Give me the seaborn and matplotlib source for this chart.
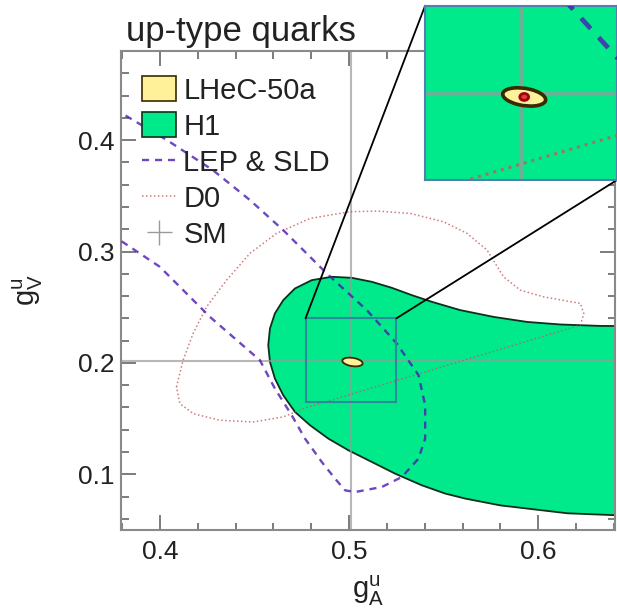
import matplotlib
matplotlib.use("Agg")
import matplotlib.pyplot as plt
import seaborn as sns
import pandas as pd
from matplotlib.patches import Ellipse, Rectangle, Patch, ConnectionPatch
from matplotlib.lines import Line2D
from matplotlib.ticker import MultipleLocator

# ---- contour data (g_A^u, g_V^u) ----
# H1 allowed region (closed, runs off the right edge)
h1_gA = [0.4573, 0.4582, 0.4608, 0.4652, 0.4714, 0.4803, 0.4908, 0.5014, 0.5120,
         0.5226, 0.5332, 0.5438, 0.5587, 0.5764, 0.5940, 0.6116, 0.6328, 0.6593,
         0.6593, 0.6418, 0.6153, 0.5799, 0.5614, 0.5508, 0.5385, 0.5243, 0.5120,
         0.4996, 0.4890, 0.4794, 0.4714, 0.4652, 0.4608, 0.4582, 0.4573]
h1_gV = [0.2159, 0.2309, 0.2444, 0.2563, 0.2668, 0.2743, 0.2773, 0.2764, 0.2728,
         0.2674, 0.2608, 0.2548, 0.2474, 0.2413, 0.2368, 0.2345, 0.2332, 0.2330,
         0.0627, 0.0632, 0.0650, 0.0721, 0.0782, 0.0827, 0.0901, 0.1006, 0.1111,
         0.1216, 0.1321, 0.1440, 0.1560, 0.1710, 0.1860, 0.2009, 0.2159]

# LEP & SLD band (open towards small g_A)
lep_gA = [0.3760, 0.4037, 0.4280, 0.4476, 0.4652, 0.4882, 0.5094, 0.5252, 0.5367,
          0.5402, 0.5402, 0.5367, 0.5279, 0.5173, 0.5032, 0.4979, 0.4926, 0.4856,
          0.4767, 0.4697, 0.4608, 0.4529, 0.4265, 0.4000, 0.3760]
lep_gV = [0.4280, 0.4001, 0.3731, 0.3462, 0.3192, 0.2803, 0.2473, 0.2174, 0.1890,
          0.1620, 0.1321, 0.1141, 0.0976, 0.0886, 0.0841, 0.0856, 0.0961, 0.1110,
          0.1321, 0.1530, 0.1770, 0.2024, 0.2413, 0.2863, 0.3135]

# D0 contour (closed)
d0_gA = [0.4088, 0.4123, 0.4176, 0.4247, 0.4353, 0.4476, 0.4617, 0.4794, 0.5005,
         0.5147, 0.5323, 0.5499, 0.5623, 0.5729, 0.5816, 0.5905, 0.6028, 0.6222,
         0.6240, 0.6222, 0.4758, 0.4652, 0.4494, 0.4317, 0.4176, 0.4106, 0.4088]
d0_gV = [0.1784, 0.2024, 0.2264, 0.2503, 0.2743, 0.2983, 0.3163, 0.3297, 0.3357,
         0.3363, 0.3342, 0.3267, 0.3163, 0.3013, 0.2773, 0.2653, 0.2593, 0.2534,
         0.2444, 0.2339, 0.1590, 0.1515, 0.1470, 0.1485, 0.1545, 0.1635, 0.1784]

# Standard Model point
sm_gA, sm_gV = 0.501, 0.202

# LHeC-50a projection: centre, full widths, tilt (deg)
lhec_centre = (0.5018, 0.2008)
lhec_size = (0.0112, 0.0072)
lhec_tilt = -22
# inner (high-precision) core
core_centre = (0.5018, 0.2008)
core_size = (0.0022, 0.0030)

# zoomed window
zoom_gA = (0.477, 0.525)
zoom_gV = (0.165, 0.240)

# ---- style ----
GREEN = "#00ea8c"
H1_EDGE = "#0f2e1c"
YELLOW = "#fff199"
ELL_EDGE = "#3a2a00"
LEP_C = "#4a1ab0"
D0_C = "#c45a5a"
SM_C = "#9a9a9a"
BOX_C = "#2a8a9a"

sns.set_theme(style="ticks")
plt.rcParams["font.family"] = ["Liberation Sans", "DejaVu Sans"]
plt.rcParams["mathtext.fontset"] = "custom"
plt.rcParams["mathtext.rm"] = "Liberation Sans"
plt.rcParams["mathtext.it"] = "Liberation Sans"

fig = plt.figure(figsize=(6.17, 6.15), dpi=100)
ax = fig.add_axes([121 / 617, 85 / 615, 494 / 617, 479 / 615])

lep = pd.DataFrame({"gA": lep_gA, "gV": lep_gV})
d0 = pd.DataFrame({"gA": d0_gA, "gV": d0_gV})


def draw_contents(a, scale):
    a.fill(h1_gA, h1_gV, facecolor=GREEN, edgecolor=H1_EDGE, lw=1.3 * scale, zorder=1)
    a.axvline(sm_gA, color=SM_C, lw=1.5 * scale, alpha=0.7, zorder=2)
    a.axhline(sm_gV, color=SM_C, lw=1.5 * scale, alpha=0.7, zorder=2)
    sns.lineplot(data=d0, x="gA", y="gV", sort=False, estimator=None, ax=a,
                 color=D0_C, lw=1.1 * scale, alpha=0.8, zorder=3,
                 linestyle=(0, (1, 1.6)))
    sns.lineplot(data=lep, x="gA", y="gV", sort=False, estimator=None, ax=a,
                 color=LEP_C, lw=1.7 * scale, alpha=0.8, zorder=4,
                 linestyle=(0, (3, 2.5)))
    a.add_patch(Ellipse(lhec_centre, lhec_size[0], lhec_size[1], angle=lhec_tilt,
                        facecolor=YELLOW, edgecolor=ELL_EDGE, lw=1.3 * scale, zorder=6))


draw_contents(ax, 1.0)
ax.add_patch(Rectangle((zoom_gA[0], zoom_gV[0]), zoom_gA[1] - zoom_gA[0],
                       zoom_gV[1] - zoom_gV[0], fill=False, edgecolor=BOX_C,
                       lw=1.5, zorder=5))

ax.xaxis.set_major_locator(MultipleLocator(0.1))
ax.xaxis.set_minor_locator(MultipleLocator(0.02))
ax.yaxis.set_major_locator(MultipleLocator(0.1))
ax.yaxis.set_minor_locator(MultipleLocator(0.02))
ax.set_xlim(0.3795, 0.6405)
ax.set_ylim(0.05, 0.48)
ax.xaxis.set_major_formatter(lambda v, p: f"{v:.1f}")
ax.yaxis.set_major_formatter(lambda v, p: f"{v:.1f}")
ax.tick_params(which="both", direction="in", top=True, right=True,
               color="#666666", width=1.2)
ax.tick_params(which="major", length=10.8, labelsize=19, labelcolor="#222222")
ax.tick_params(which="minor", length=5.4)
ax.tick_params(axis="x", which="major", pad=7)
ax.tick_params(axis="y", which="major", pad=4.5)
for s in ax.spines.values():
    s.set_color("#8a8a8a")
    s.set_linewidth(1.5)

ax.set_xlabel(r"$\mathrm{g^{u}_{A}}$", fontsize=21, color="#222222", labelpad=7)
ax.set_ylabel(r"$\mathrm{g^{u}_{V}}$", fontsize=21, color="#222222", labelpad=24)

fig.text(126 / 617, 1 - 41 / 615, "up-type quarks", fontsize=25,
         color="#222222", va="baseline", ha="left")

handles = [
    Patch(facecolor=YELLOW, edgecolor=ELL_EDGE, lw=1.2),
    Patch(facecolor=GREEN, edgecolor=H1_EDGE, lw=1.2),
    Line2D([], [], color=LEP_C, lw=1.7, alpha=0.8, linestyle=(0, (3, 2.5))),
    Line2D([], [], color=D0_C, lw=1.1, alpha=0.8, linestyle=(0, (1, 1.6))),
    Line2D([], [], color=SM_C, marker="+", markersize=18, markeredgewidth=1.0,
           linestyle="none"),
]
labels = ["LHeC-50a", "H1", "LEP & SLD", "D0", "SM"]
leg = ax.legend(handles, labels, loc="upper left", bbox_to_anchor=(0.0425, 0.947),
                frameon=False, fontsize=21, handlelength=1.17, handleheight=0.9,
                handletextpad=0.25, labelspacing=0.27, borderpad=0,
                borderaxespad=0)
for t in leg.get_texts():
    t.set_color("#222222")
leg.set_zorder(10)

# ---- inset: magnified window ----
axins = fig.add_axes([425 / 617, 435 / 615, 192 / 617, 174 / 615])
draw_contents(axins, 2.0)
axins.add_patch(Ellipse(core_centre, core_size[0], core_size[1],
                        facecolor="#e03a3a", edgecolor="#a00010", lw=2.0, zorder=7))
axins.set_xlim(*zoom_gA)
axins.set_ylim(*zoom_gV)
axins.set_xticks([])
axins.set_yticks([])
axins.set_xlabel("")
axins.set_ylabel("")
for s in axins.spines.values():
    s.set_color("#5080b0")
    s.set_linewidth(1.5)
axins.set_zorder(20)

for xy_data, xy_ins in [((zoom_gA[0], zoom_gV[1]), (0, 1)),
                        ((zoom_gA[1], zoom_gV[1]), (1, 0))]:
    con = ConnectionPatch(xyA=xy_data, coordsA=ax.transData,
                          xyB=xy_ins, coordsB=axins.transAxes,
                          color="black", lw=1.3, zorder=15)
    fig.add_artist(con)

fig.savefig("out.png", dpi=100)
